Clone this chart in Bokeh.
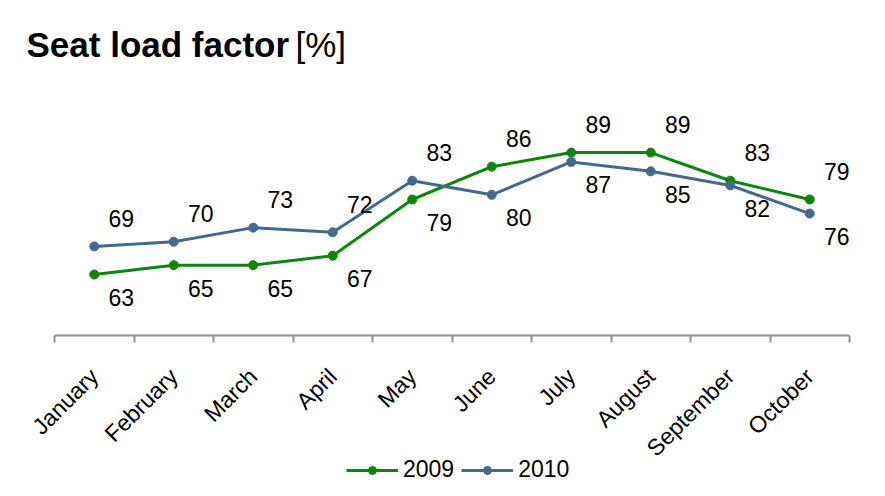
import math
from bokeh.plotting import figure
from bokeh.models import (ColumnDataSource, Range1d, FixedTicker, CustomJSTickFormatter,
                          Legend, LegendItem, Label)
from bokeh.embed import file_html
from bokeh.resources import INLINE
from bokeh.core.properties import value

# ---- data ----
months = ["January", "February", "March", "April", "May", "June",
          "July", "August", "September", "October"]
load_2009 = [63, 65, 65, 67, 79, 86, 89, 89, 83, 79]
load_2010 = [69, 70, 73, 72, 83, 80, 87, 85, 82, 76]
# where each value label sits relative to its point
label_side_2009 = ["below", "below", "below", "below", "below",
                   "above", "above", "above", "above", "above"]
label_side_2010 = ["above", "above", "above", "above", "above",
                   "below", "below", "below", "below", "below"]

GREEN = "#0A870A"
BLUE = "#44698E"
AXIS_GREY = "#8E8E8E"
FONT = "Liberation Sans"

n = len(months)
xs = [i + 0.5 for i in range(n)]

# layout (pixels) - the frame covers the whole canvas; the x axis sits at y = 50
FW, FH = 869, 488
AXIS_Y_PX = 335             # pixel row of the category axis
CAT_LEFT, CAT_W = 54, 79.5  # first category boundary and category width
Y0, PX_PER_UNIT = 50, 4.69


def make_source(vals, sides):
    return ColumnDataSource(dict(
        x=xs, y=vals, txt=[str(v) for v in vals],
        dx=[27 for s in sides],
        dy=[-28 if s == "above" else 23 for s in sides],
    ))


src09 = make_source(load_2009, label_side_2009)
src10 = make_source(load_2010, label_side_2010)

x_start = -CAT_LEFT / CAT_W
x_end = x_start + FW / CAT_W
y_top = Y0 + AXIS_Y_PX / PX_PER_UNIT
y_bottom = Y0 - (FH - AXIS_Y_PX) / PX_PER_UNIT
p = figure(frame_width=FW, frame_height=FH,
           x_range=Range1d(x_start, x_end), y_range=Range1d(y_bottom, y_top),
           output_backend="svg", toolbar_location=None,
           min_border_left=0, min_border_right=0, min_border_top=0, min_border_bottom=0)
p.outline_line_color = None
p.grid.visible = False
p.yaxis.visible = False
p.background_fill_color = "white"
p.border_fill_color = "white"

ax = p.xaxis[0]
ax.fixed_location = Y0
ax.bounds = (0, n)
ax.ticker = FixedTicker(ticks=xs, minor_ticks=list(range(n + 1)))
ax.formatter = CustomJSTickFormatter(args=dict(labels=months),
                                     code="return labels[Math.round(tick - 0.5)];")
ax.axis_line_color = AXIS_GREY
ax.axis_line_width = 2
ax.major_tick_line_color = None
ax.major_tick_out = 0
ax.major_tick_in = 0
ax.minor_tick_line_color = AXIS_GREY
ax.minor_tick_line_width = 2
ax.minor_tick_out = 7
ax.minor_tick_in = 0
ax.major_label_orientation = math.pi / 4
ax.major_label_standoff = 30
ax.major_label_text_font = FONT
ax.major_label_text_font_size = "23px"
ax.major_label_text_color = "black"

l09 = p.line("x", "y", source=src09, line_color=GREEN, line_width=3)
c09 = p.scatter("x", "y", source=src09, size=9, fill_color=GREEN, line_color=GREEN)
l10 = p.line("x", "y", source=src10, line_color=BLUE, line_width=3)
c10 = p.scatter("x", "y", source=src10, size=9, fill_color=BLUE, line_color=BLUE)

for src in (src09, src10):
    p.text("x", "y", text="txt", source=src, x_offset="dx", y_offset="dy",
           text_align="center", text_baseline="middle",
           text_font=value(FONT), text_font_size="23px", text_color="black")

legend = Legend(items=[LegendItem(label="2009", renderers=[l09, c09]),
                       LegendItem(label="2010", renderers=[l10, c10])],
                orientation="horizontal", location=(346, 5),
                border_line_color=None, background_fill_alpha=0,
                label_text_font=FONT, label_text_font_size="23px", label_text_color="black",
                glyph_width=52, glyph_height=20, spacing=7, label_standoff=5,
                padding=0, margin=0)
p.add_layout(legend, "center")

# title: bold part + regular unit
title_base = FH - 44
p.add_layout(Label(x=26, y=title_base, x_units="screen", y_units="screen",
                   text="Seat load factor", text_font=FONT, text_font_style="bold",
                   text_font_size="35px", text_baseline="alphabetic", text_color="black"))
p.add_layout(Label(x=295, y=title_base, x_units="screen", y_units="screen",
                   text="[%]", text_font=FONT,
                   text_font_size="35px", text_baseline="alphabetic", text_color="black"))

open("out.html", "w").write(file_html(p, INLINE))
